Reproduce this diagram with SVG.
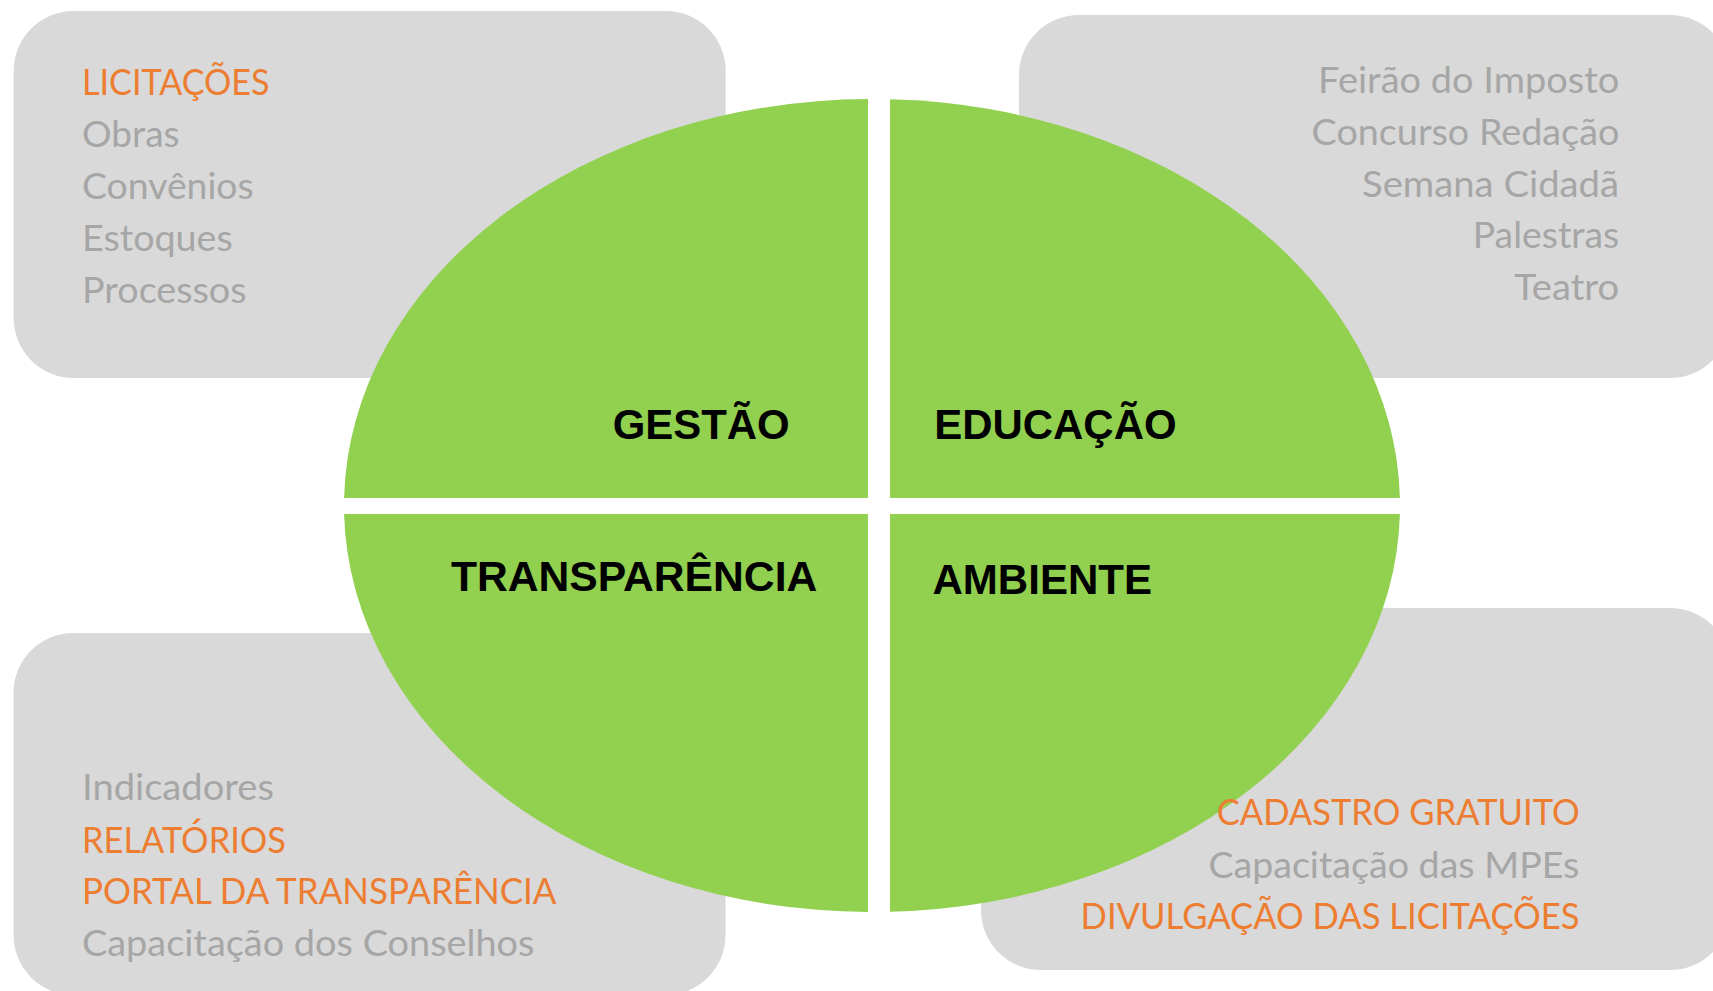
<svg xmlns="http://www.w3.org/2000/svg" width="1713" height="991" viewBox="0 0 1713 991">
<style>
.box{fill:#D9D9D9}
.quad{fill:#92D050}
.lbl{font-family:"Liberation Sans",Arial,sans-serif;font-weight:bold;font-size:42px;fill:#000}
.item{font-family:Lato,"Open Sans",sans-serif;font-size:37px}
.g{fill:#A6A6A6}
.o{fill:#ED7D31}
</style>
<rect width="1713" height="991" fill="#FFFFFF"/>
<g id="box-gestao"><rect class="box" x="13.7" y="11" width="712" height="367" rx="60" ry="60"/></g>
<g id="box-educacao"><rect class="box" x="1019" y="15" width="711" height="363" rx="60" ry="60"/></g>
<g id="box-transparencia"><rect class="box" x="13.5" y="633" width="712" height="362" rx="60" ry="60"/></g>
<g id="box-ambiente"><rect class="box" x="981" y="608" width="749" height="362" rx="60" ry="60"/></g>

<g id="quad-gestao"><path class="quad" d="M868,498 L344.1,498 A528,406.5 0 0 1 868,99 Z"/><text class="lbl" x="612.7" y="439.3" textLength="177" lengthAdjust="spacingAndGlyphs">GESTÃO</text></g>
<g id="quad-educacao"><path class="quad" d="M890,498 L890,99.2 A528,406.5 0 0 1 1399.9,498 Z"/><text class="lbl" x="934.2" y="439.3" textLength="242.4" lengthAdjust="spacingAndGlyphs">EDUCAÇÃO</text></g>
<g id="quad-transparencia"><path class="quad" d="M868,514 L868,912 A528,406.5 0 0 1 344.1,514 Z"/><text class="lbl" x="450.9" y="591" textLength="366.4" lengthAdjust="spacingAndGlyphs">TRANSPARÊNCIA</text></g>
<g id="quad-ambiente"><path class="quad" d="M890,514 L1399.9,514 A528,406.5 0 0 1 890,911.8 Z"/><text class="lbl" x="932.5" y="594.3" textLength="219.5" lengthAdjust="spacingAndGlyphs">AMBIENTE</text></g>

<g id="connectors"></g>

<g id="list-gestao" class="item">
<text class="o" x="82" y="95" textLength="187.6" lengthAdjust="spacingAndGlyphs">LICITAÇÕES</text>
<text class="g" x="82" y="146.7" textLength="97.6" lengthAdjust="spacingAndGlyphs">Obras</text>
<text class="g" x="82" y="199.3" textLength="171.7" lengthAdjust="spacingAndGlyphs">Convênios</text>
<text class="g" x="82" y="251" textLength="150.8" lengthAdjust="spacingAndGlyphs">Estoques</text>
<text class="g" x="82" y="302.7" textLength="164.6" lengthAdjust="spacingAndGlyphs">Processos</text>
</g>
<g id="list-educacao" class="item">
<text class="g" x="1318.1" y="92.7" textLength="301.2" lengthAdjust="spacingAndGlyphs">Feirão do Imposto</text>
<text class="g" x="1311.6" y="145" textLength="307.7" lengthAdjust="spacingAndGlyphs">Concurso Redação</text>
<text class="g" x="1362" y="196.7" textLength="257" lengthAdjust="spacingAndGlyphs">Semana Cidadã</text>
<text class="g" x="1472.8" y="248.3" textLength="146.5" lengthAdjust="spacingAndGlyphs">Palestras</text>
<text class="g" x="1514" y="300" textLength="105" lengthAdjust="spacingAndGlyphs">Teatro</text>
</g>
<g id="list-transparencia" class="item">
<text class="g" x="82" y="800.3" textLength="192" lengthAdjust="spacingAndGlyphs">Indicadores</text>
<text class="o" x="82" y="852.7" textLength="204" lengthAdjust="spacingAndGlyphs">RELATÓRIOS</text>
<text class="o" x="82" y="904.3" textLength="474.5" lengthAdjust="spacingAndGlyphs">PORTAL DA TRANSPARÊNCIA</text>
<text class="g" x="82" y="956" textLength="452.5" lengthAdjust="spacingAndGlyphs">Capacitação dos Conselhos</text>
</g>
<g id="list-ambiente" class="item">
<text class="o" x="1216.7" y="825.3" textLength="363" lengthAdjust="spacingAndGlyphs">CADASTRO GRATUITO</text>
<text class="g" x="1208.4" y="877.7" textLength="371" lengthAdjust="spacingAndGlyphs">Capacitação das MPEs</text>
<text class="o" x="1080.6" y="929.3" textLength="499" lengthAdjust="spacingAndGlyphs">DIVULGAÇÃO DAS LICITAÇÕES</text>
</g>
</svg>
